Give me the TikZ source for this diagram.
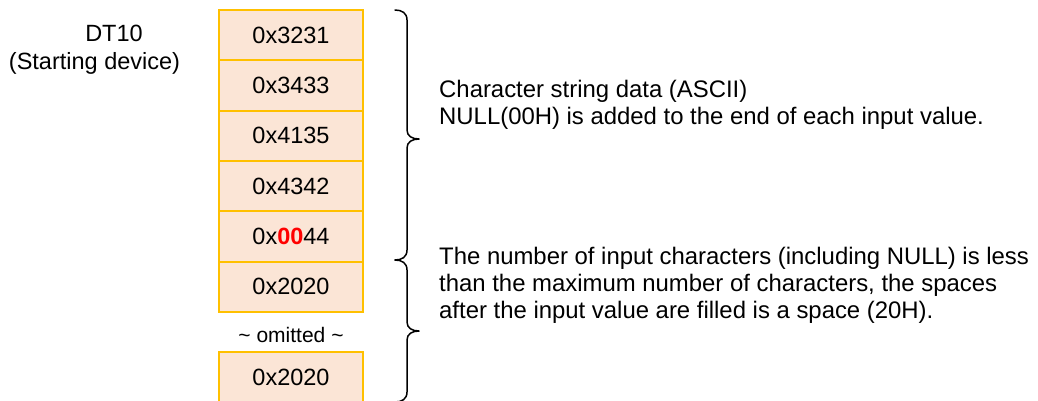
\documentclass[tikz,border=0pt]{standalone}
\usepackage{fontspec}
\setmainfont{Liberation Sans}
\definecolor{boxfill}{HTML}{FBE5D6}
\definecolor{boxline}{HTML}{FFC000}
\definecolor{nullred}{HTML}{FF0000}
\begin{document}
\begin{tikzpicture}[x=1pt,y=-1pt,
  cell/.style={draw=boxline, fill=boxfill, line width=2pt, minimum width=144pt,
    minimum height=50.33pt, inner sep=0pt, outer sep=0pt, anchor=north,
    font=\fontsize{23.5}{27}\selectfont},
  lbl/.style={inner sep=0pt, align=left, anchor=base west,
    font=\fontsize{23.9}{26.8}\selectfont},
  plain/.style={inner sep=0pt, anchor=base, font=\fontsize{23.5}{27}\selectfont},
  brace/.style={draw=black, line width=1.5pt, line cap=round, line join=round}]
\useasboundingbox (0,0) rectangle (1038,400);
\clip (0,0) rectangle (1038,400);

\node[plain] (dt) at (114,41.5) {DT10};
\node[plain] (sd) at (94.5,69.5) {(Starting device)};

\node[cell] (r1) at (291,10) {0x3231};
\node[cell] (r2) at (291,60.33) {0x3433};
\node[cell] (r3) at (291,110.67) {0x4135};
\node[cell] (r4) at (291,161) {0x4342};
\node[cell] (r5) at (291,211.33) {0x\textbf{\textcolor{nullred}{00}}44};
\node[cell] (r6) at (291,261.67) {0x2020};
\node[inner sep=0pt, font=\fontsize{21}{24}\selectfont] (om) at (291,335) {\textasciitilde{} omitted \textasciitilde};
\node[cell] (r7) at (291,352) {0x2020};

\draw[brace] (395,10) .. controls (402,10) and (407,13) .. (407,20) -- (407,130)
  .. controls (407,136) and (412,139) .. (419,139)
  .. controls (412,139) and (407,142) .. (407,148) -- (407,250)
  .. controls (407,257) and (402,260) .. (395,260);
\draw[brace] (395,260) .. controls (402,260) and (407,263) .. (407,270) -- (407,322)
  .. controls (407,328) and (412,331) .. (419,331)
  .. controls (412,331) and (407,334) .. (407,340) -- (407,392)
  .. controls (407,399) and (402,402) .. (395,402);

\node[lbl] (t1) at (439,124.5) {Character string data (ASCII)\\NULL(00H) is added to the end of each input value.};
\node[lbl] (t2) at (439,318.5) {The number of input characters (including NULL) is less\\than the maximum number of characters, the spaces\\after the input value are filled is a space (20H).};
\end{tikzpicture}
\end{document}
